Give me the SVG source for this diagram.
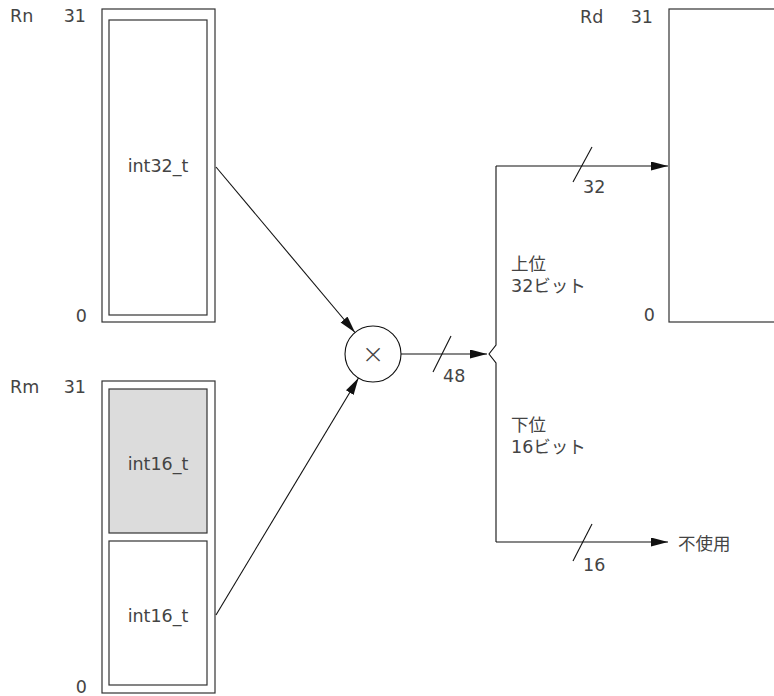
<svg xmlns="http://www.w3.org/2000/svg" width="774" height="696" viewBox="0 0 774 696">
<style>
text{font-family:"DejaVu Sans","Noto Sans CJK JP",sans-serif;font-size:17.5px;fill:#444}
.box{fill:#fff;stroke:#333;stroke-width:1.2}
.gray{fill:#dcdcdc}
.ln{fill:none;stroke:#111;stroke-width:1.1}
.mid{text-anchor:middle}
.end{text-anchor:end}
</style>
<defs>
<marker id="ah" markerUnits="userSpaceOnUse" markerWidth="18" markerHeight="10" refX="17" refY="4.5" orient="auto">
<path d="M0,0 L17,4.5 L0,9 Z" fill="#111"/>
</marker>
</defs>
<g id="Rn">
<text x="10" y="22">Rn</text>
<text x="86" y="22" class="end">31</text>
<text x="87" y="322" class="end">0</text>
<rect class="box" x="102" y="9" width="113" height="313"/>
<rect class="box" x="109" y="20" width="98" height="295"/>
<text x="158" y="172" class="mid">int32_t</text>
</g>
<g id="Rm">
<text x="10" y="393">Rm</text>
<text x="86" y="393" class="end">31</text>
<text x="87" y="693" class="end">0</text>
<rect class="box" x="102" y="381" width="113" height="312"/>
<rect class="box gray" x="109" y="389" width="98" height="144"/>
<rect class="box" x="109" y="541" width="98" height="144"/>
<text x="158" y="470" class="mid">int16_t</text>
<text x="158" y="622" class="mid">int16_t</text>
</g>
<g id="mul">
<circle cx="373" cy="354" r="28" fill="#fff" stroke="#111" stroke-width="1.1"/>
<text x="373" y="363" class="mid" style="font-size:27px;font-weight:200">×</text>
</g>
<g id="Rd">
<text x="580" y="23">Rd</text>
<text x="653" y="23" class="end">31</text>
<text x="655" y="321" class="end">0</text>
<rect class="box" x="669" y="9" width="130" height="313"/>
</g>
<g id="unused">
<text x="678" y="550">不使用</text>
</g>
<g id="connectors">
<line class="ln" x1="216" y1="167" x2="355" y2="332.5" marker-end="url(#ah)"/>
<line class="ln" x1="216" y1="615" x2="358.5" y2="378" marker-end="url(#ah)"/>
<line class="ln" x1="401" y1="354" x2="487" y2="354" marker-end="url(#ah)"/>
<line class="ln" x1="433" y1="372" x2="451" y2="336"/>
<text x="443" y="382">48</text>
<path class="ln" d="M496,166 V345 L489,354 L496,363 V542"/>
<line class="ln" x1="496" y1="166" x2="668" y2="166" marker-end="url(#ah)"/>
<line class="ln" x1="573" y1="182" x2="592" y2="147"/>
<text x="583" y="193">32</text>
<line class="ln" x1="496" y1="542" x2="668" y2="542" marker-end="url(#ah)"/>
<line class="ln" x1="573" y1="561" x2="592" y2="524"/>
<text x="583" y="571">16</text>
<text x="511" y="270">上位</text>
<text x="511" y="292">32ビット</text>
<text x="511" y="431">下位</text>
<text x="511" y="453">16ビット</text>
</g>
</svg>
